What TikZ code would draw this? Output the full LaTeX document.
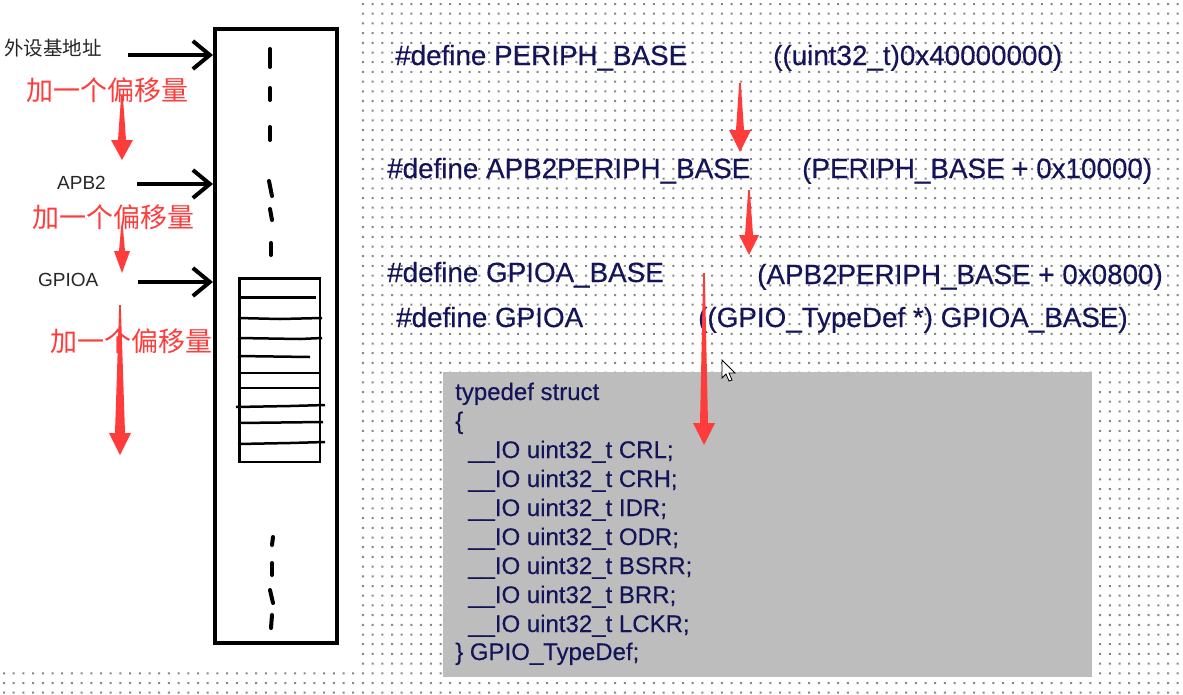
\documentclass[tikz,border=0pt]{standalone}
\usepackage{fontspec}
\setmainfont{Liberation Sans}
\newfontfamily\codefont[FakeBold=0.35]{Liberation Sans}
\newfontfamily\cjk{Noto Sans CJK SC}
\usetikzlibrary{arrows.meta,calc}
\definecolor{codeblue}{RGB}{20,20,90}
\definecolor{redmark}{RGB}{255,60,60}
\definecolor{boxgray}{RGB}{189,189,189}
\definecolor{dotgray}{RGB}{135,135,135}
\newcommand\redarrow[6]{%
  \fill[redmark] ({#1-0.8},#2) -- ({#1+0.8},#2) -- ({#1+#6},#3) -- ({#1+#5},#3)
    -- (#1,#4) -- ({#1-#5},#3) -- ({#1-#6},#3) -- cycle;}
\begin{document}
\begin{tikzpicture}[x=1pt,y=-1pt,
  defn/.style={font=\codefont\fontsize{27.8}{33}\selectfont, text=codeblue, inner sep=0pt, anchor=base west},
  codeline/.style={font=\codefont\fontsize{24}{29}\selectfont, text=codeblue, inner sep=0pt, anchor=base west},
  lbl/.style={font=\fontsize{19}{23}\selectfont, text=black!85, inner sep=0pt, anchor=base west},
  redlbl/.style={font=\cjk\fontsize{27}{32}\selectfont, text=redmark, inner sep=0pt, anchor=west},
  blkarrow/.style={line width=4pt, -{Straight Barb[length=17pt,width=28pt]}},
  dashmark/.style={line width=4pt, line cap=round},
  hline/.style={line width=2.5pt}]
\useasboundingbox (0,0) rectangle (1183,694);
\fill[white] (0,0) rectangle (1183,694);
% dotted background
\foreach \j in {0,...,71} {
  \fill[dotgray] \foreach \i in {0,...,121} { ({\i*9.7+3},{\j*9.7+3}) rectangle ++(2,2) };
}
\fill[white] (0,0) rectangle (360,672);

% memory column
\node[draw, line width=4pt, minimum width=122pt, minimum height=614pt, anchor=north west, inner sep=0pt] (mem) at (213,27) {};
\node[draw, line width=2.5pt, minimum width=80.5pt, minimum height=183.5pt, anchor=north west, inner sep=0pt] (gpioblk) at (238,277) {};
\draw[dashmark] (270,49) -- (270,67);
\draw[dashmark] (270,88) -- (270,100);
\draw[dashmark] (270,127) -- (270,140);
\draw[dashmark] (269,181) -- (272,196);
\draw[dashmark] (270,209) -- (272,220);
\draw[dashmark] (271,243) -- (271,255);
\draw[dashmark] (273,537) -- (272,545);
\draw[dashmark] (272,563) -- (272,575);
\draw[dashmark] (270,590) -- (273,603);
\draw[dashmark] (272,615) -- (271,628);
\draw[line width=3pt] (238,297) -- (316,297);
\draw[hline] (238,318) -- (280,319) -- (322,318);
\draw[hline] (238,338) -- (300,339) -- (322,338);
\draw[hline] (238,356) -- (310,357);
\draw[hline] (238,373) -- (321,373);
\draw[hline] (241,388) -- (320,388);
\draw[hline] (236,407) -- (290,406) -- (325,405);
\draw[hline] (238,423) -- (323,422);
\draw[hline] (238,444) -- (290,443) -- (325,442);

% left labels and arrows
\node[font=\cjk\fontsize{19.5}{23}\selectfont, text=black!85, inner sep=0pt, anchor=west] (periph) at (4,48) {外设基地址};
\node[lbl] (apb2) at (57,189) {APB2};
\node[lbl] (gpioa) at (38,286) {GPIOA};
\coordinate (s1) at (128,55);
\coordinate (s2) at (137,184);
\coordinate (s3) at (138,282);
\draw[blkarrow] (s1) -- (s1 -| mem.west);
\draw[blkarrow] (s2) -- (s2 -| mem.west);
\draw[blkarrow] (s3) -- (s3 -| mem.west);

\node[redlbl] (off1) at (26,90) {加一个偏移量};
\node[redlbl] (off2) at (32,217) {加一个偏移量};
\node[redlbl] (off3) at (50,341) {加一个偏移量};
\redarrow{122}{95}{140}{160}{11}{4}
\redarrow{122}{226}{251}{273}{8}{3}
\redarrow{120}{305}{433}{455}{11}{5}

% defines
\node[defn] (d1l) at (395,65) {\#define PERIPH\_BASE};
\node[defn] (d1r) at (773,65) {((uint32\_t)0x40000000)};
\node[defn] (d2l) at (387,178) {\#define APB2PERIPH\_BASE};
\node[defn] (d2r) at (802,178) {(PERIPH\_BASE + 0x10000)};
\node[defn] (d3l) at (387,282) {\#define GPIOA\_BASE};
\node[defn] (d3r) at (757,284) {(APB2PERIPH\_BASE + 0x0800)};
\node[defn] (d4l) at (396,327) {\#define GPIOA};
\node[defn] (d4r) at (698,327) {((GPIO\_TypeDef *) GPIOA\_BASE)};

% struct box
\node[fill=boxgray, minimum width=649pt, minimum height=305pt, anchor=north west, inner sep=0pt] (structbox) at (443,372) {};
\node[codeline] (c1) at (455,400) {typedef struct};
\node[codeline] (c2) at (455,429) {\{};
\node[codeline] (c3) at (468,458) {\_\_IO uint32\_t CRL;};
\node[codeline] (c4) at (468,487) {\_\_IO uint32\_t CRH;};
\node[codeline] (c5) at (468,516) {\_\_IO uint32\_t IDR;};
\node[codeline] (c6) at (468,545) {\_\_IO uint32\_t ODR;};
\node[codeline] (c7) at (468,574) {\_\_IO uint32\_t BSRR;};
\node[codeline] (c8) at (468,603) {\_\_IO uint32\_t BRR;};
\node[codeline] (c9) at (468,632) {\_\_IO uint32\_t LCKR;};
\node[codeline] (c10) at (455,660) {\} GPIO\_TypeDef;};

% right red arrows
\redarrow{740}{83}{130}{152}{11}{4}
\redarrow{749}{190}{235}{255}{10}{4}
\redarrow{704}{273}{423}{445}{11}{4}

% mouse cursor
\filldraw[fill=white, draw=black, line width=0.8pt] (722,360) -- (722,378) -- (726,374) -- (729,381) -- (732,380) -- (729,373) -- (735,373) -- cycle;
\end{tikzpicture}
\end{document}
